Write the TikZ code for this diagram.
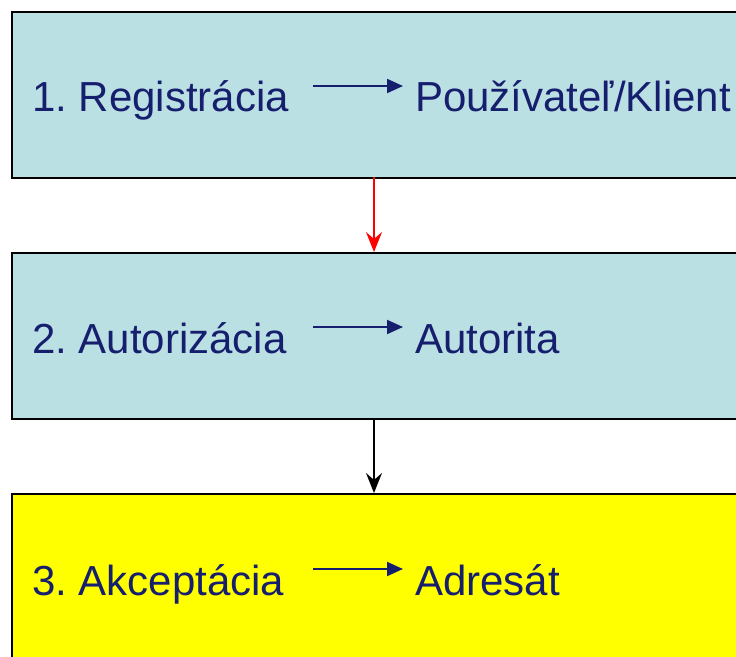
\documentclass[tikz,border=0pt]{standalone}
\usepackage{fontspec}
\setmainfont{Liberation Sans}
\usetikzlibrary{arrows.meta}
\definecolor{boxblue}{RGB}{187,224,227}
\definecolor{navy}{RGB}{22,30,110}
\definecolor{brightyellow}{RGB}{255,255,0}
\frenchspacing
\begin{document}
\begin{tikzpicture}[x=1pt,y=-1pt,
  box/.style={draw=black,line width=2pt,inner sep=0pt,anchor=north west,minimum width=780pt,minimum height=166pt},
  lbl/.style={anchor=base west,inner sep=0pt,text=navy,font=\fontsize{42}{50}\selectfont},
  inarrow/.style={draw=navy,line width=2pt,-{Triangle[length=16pt,width=14pt]}},
  vred/.style={draw=red,line width=1.5pt,-{Stealth[length=20pt,width=16pt,inset=7pt]}},
  vblack/.style={draw=black,line width=1.8pt,-{Stealth[length=20pt,width=16pt,inset=7pt]}}]
\useasboundingbox (0,0) rectangle (736,656);
\clip (0,0) rectangle (736,656);
\fill[white] (0,0) rectangle (736,656);
\node[box,fill=boxblue] (b1) at (11,11) {};
\node[box,fill=boxblue] (b2) at (11,252) {};
\node[box,fill=brightyellow] (b3) at (11,493) {};
\draw[vred] (374,177) coordinate (r1) -- (374,252) coordinate (r2);
\draw[vblack] (374,418) coordinate (k1) -- (374,493) coordinate (k2);
\node[lbl] (t1) at (32,111) {1. Registrácia};
\node[lbl] (u1) at (415,111) {Používateľ/Klient};
\node[lbl] (t2) at (32,353) {2. Autorizácia};
\node[lbl] (u2) at (415,353) {Autorita};
\node[lbl] (t3) at (32,595) {3. Akceptácia};
\node[lbl] (u3) at (415,595) {Adresát};
\coordinate (a1s) at (313,86); \coordinate (a1e) at (403,86);
\coordinate (a2s) at (313,327); \coordinate (a2e) at (403,327);
\coordinate (a3s) at (313,569); \coordinate (a3e) at (403,569);
\draw[inarrow] (a1s) -- (a1e);
\draw[inarrow] (a2s) -- (a2e);
\draw[inarrow] (a3s) -- (a3e);
\end{tikzpicture}
\end{document}
